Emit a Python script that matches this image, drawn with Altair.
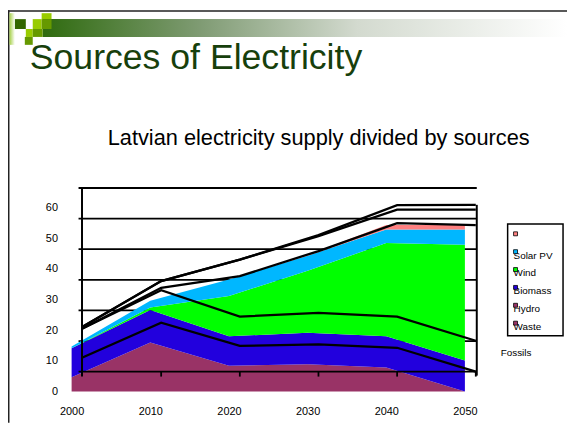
import altair as alt
import pandas as pd

# ---------------- data ----------------
years = [2000, 2010, 2020, 2030, 2040, 2050]
series_names = ["Hydro", "Biomass", "Wind", "Solar PV", "Other"]
series_colors = ["#993366", "#2200dd", "#00ff00", "#00b7ff", "#ff8080"]
hydro = [4.6, 16.0, 8.4, 8.9, 7.8, 0.0]
biomass = [9.5, 10.6, 9.6, 10.3, 10.2, 10.1]
wind = [0.0, 0.8, 13.2, 20.2, 30.5, 37.8]
solar_pv = [0.6, 2.2, 5.4, 4.9, 4.4, 5.0]
other = [0.0, 0.0, 0.0, 0.3, 1.5, 1.6]
series_values = [hydro, biomass, wind, solar_pv, other]

y_ticks = [0, 10, 20, 30, 40, 50, 60]
x_ticks = years

legend_labels = ["", "Solar PV", "Wind", "Biomass", "Hydro", "Waste"]
legend_colors = ["#ff8080", "#00b7ff", "#00ff00", "#2200dd", "#993366", "#993366"]
legend_extra = "Fossils"

title_text = "Sources of Electricity"
subtitle_text = "Latvian electricity supply divided by sources"

rows = []
for k, (name, vals) in enumerate(zip(series_names, series_values)):
    for yr, v in zip(years, vals):
        rows.append({"year": yr, "series": name, "order": k, "value": v})
df = pd.DataFrame(rows)

# ---------------- layout ----------------
W, H = 565, 417
FONT = "Liberation Sans"
xs = alt.Scale(domain=[years[0], years[-1]], range=[64.3, 461.8], nice=False, zero=False)
ys = alt.Scale(domain=[y_ticks[0], y_ticks[-1]], range=[385.3, 199.7], nice=False, zero=False)
DX, DY = 11, -20  # back-wall offset of the 3-D chart

one = pd.DataFrame({"a": [0]})


def box(x, x2, y, y2, **kw):
    return alt.Chart(one).mark_rect(**kw).encode(
        x=alt.value(x), x2=alt.value(x2), y=alt.value(y), y2=alt.value(y2)
    )


def hgrad(c0, c1, mid=None):
    stops = [alt.GradientStop(color=c0, offset=0)]
    if mid:
        stops += [alt.GradientStop(color=c, offset=o) for o, c in mid]
    stops.append(alt.GradientStop(color=c1, offset=1))
    return alt.Gradient(gradient="linear", stops=stops, x1=0, x2=1, y1=0, y2=0)


# slide frame + header decoration
frame_top = box(0, W, 0, 1.5, color="#222222")
frame_left = box(0, 1.5, 0, H, color="#222222")
header_bar = box(35, W, 9, 27, color=hgrad("#2f6b0f", "#ffffff", [(0.3, "#7f9b73"), (0.6, "#d3dacf")]))
sq = [
    box(1.5, 7, 3, 35, color=hgrad("#a6d04a", "#ffffff")),
    box(7, 18, 9, 19, color="#336600"),
    box(34, 44, 3, 9, color="#99cc00"),
    box(25, 34, 9, 19, color="#99cc00"),
    box(34, 44, 9, 19, color="#669900"),
    box(18, 25, 19, 27, color="#99cc00"),
    box(25, 35, 19, 27, color="#669900"),
    box(17, 25, 27, 35, color="#669900"),
]

title = alt.Chart(one).mark_text(
    text=title_text, font=FONT, fontSize=36, color="#173f0c", align="left", baseline="alphabetic"
).encode(x=alt.value(22), y=alt.value(59))
subtitle = alt.Chart(one).mark_text(
    text=subtitle_text, font=FONT, fontSize=22, color="black", align="center", baseline="alphabetic"
).encode(x=alt.value(314), y=alt.value(136.3))

# ---------------- chart ----------------
grid_df = pd.DataFrame({"v": y_ticks, "x0": years[0], "x1": years[-1]})
grid = alt.Chart(grid_df).transform_filter(alt.datum.v > 0).mark_rule(
    color="black", strokeWidth=1.8, xOffset=DX - 4, x2Offset=DX + 1, yOffset=DY
).encode(
    x=alt.X("x0:Q", scale=xs, axis=None), x2="x1:Q", y=alt.Y("v:Q", scale=ys, axis=None)
)

base = alt.Chart(df).transform_stack(
    stack="value", groupby=["year"], as_=["y0", "y1"], sort=[alt.SortField("order", order="ascending")]
)

areas = base.mark_area(opacity=1, interpolate="linear").encode(
    x=alt.X(
        "year:Q", scale=xs,
        axis=alt.Axis(values=x_ticks, format="d", orient="bottom", offset=-19, domain=False,
                      ticks=False, grid=False, labelFlush=False, labelPadding=2,
                      labelFontSize=11, labelFont=FONT, labelColor="black", title=None),
    ),
    y=alt.Y(
        "y1:Q", scale=ys,
        axis=alt.Axis(values=y_ticks, orient="left", offset=-50, domain=False, ticks=False,
                      grid=False, labelPadding=0, labelFontSize=11, labelFont=FONT,
                      labelColor="black", title=None, labelFlush=False),
    ),
    y2="y0:Q",
    color=alt.Color("series:N", scale=alt.Scale(domain=series_names, range=series_colors), legend=None),
    order=alt.Order("order:Q"),
)

back_lines = base.mark_line(color="black", strokeWidth=2.3, xOffset=DX, yOffset=DY).encode(
    x=alt.X("year:Q", scale=xs, axis=None),
    y=alt.Y("y1:Q", scale=ys, axis=None),
    detail="series:N",
)

baseline = alt.Chart(grid_df).transform_filter(alt.datum.v == 0).mark_rule(
    color="black", strokeWidth=2, xOffset=DX - 4, x2Offset=DX + 1, yOffset=DY
).encode(x=alt.X("x0:Q", scale=xs, axis=None), x2="x1:Q", y=alt.Y("v:Q", scale=ys, axis=None))

tick_df = pd.DataFrame({"year": x_ticks[1:], "b": y_ticks[0]})
ticks = alt.Chart(tick_df).mark_rule(
    color="black", strokeWidth=1.8, xOffset=DX, yOffset=DY, y2Offset=DY + 5
).encode(x=alt.X("year:Q", scale=xs, axis=None), y=alt.Y("b:Q", scale=ys, axis=None), y2="b:Q")

axis_df = pd.DataFrame({"x": [years[0]], "lo": [y_ticks[0]], "hi": [y_ticks[-1]]})
back_axis = alt.Chart(axis_df).mark_rule(
    color="black", strokeWidth=2, xOffset=DX - 0.5, yOffset=DY + 5, y2Offset=DY
).encode(x=alt.X("x:Q", scale=xs, axis=None), y=alt.Y("lo:Q", scale=ys, axis=None), y2="hi:Q")

right_edge = base.transform_filter(alt.datum.year == years[-1]).transform_aggregate(
    total="sum(value)", groupby=["year"]
).transform_calculate(zero="0").mark_rule(
    color="black", strokeWidth=2, xOffset=DX + 1, yOffset=DY, y2Offset=DY + 4
).encode(x=alt.X("year:Q", scale=xs, axis=None), y=alt.Y("total:Q", scale=ys, axis=None), y2="zero:Q")

# ---------------- legend ----------------
leg_df = pd.DataFrame({"row": list(range(len(legend_labels))), "label": legend_labels, "col": legend_colors})
leg_scale = alt.Scale(domain=[0, len(legend_labels) - 1], range=[230, 320.3], nice=False, zero=False)
legend_box = box(505, 561, 216, 329, fill="white", stroke="black", strokeWidth=1.5)
legend_text = alt.Chart(leg_df).mark_text(
    align="left", baseline="middle", font=FONT, fontSize=10, color="black"
).encode(x=alt.value(511), y=alt.Y("row:Q", scale=leg_scale, axis=None), text="label:N")
legend_marks = alt.Chart(leg_df).mark_square(
    size=16, filled=True, opacity=1, stroke="black", strokeWidth=0.8, yOffset=-4
).encode(x=alt.value(513), y=alt.Y("row:Q", scale=leg_scale, axis=None), fill=alt.Fill("col:N", scale=None))
legend_fossils = alt.Chart(one).mark_text(
    text=legend_extra, align="left", baseline="middle", font=FONT, fontSize=10, color="black"
).encode(x=alt.value(498), y=alt.value(347))

chart = alt.layer(
    frame_top, frame_left, header_bar, *sq, title, subtitle,
    grid, areas, back_lines, baseline, ticks, back_axis, right_edge,
    legend_box, legend_text, legend_marks, legend_fossils,
).resolve_scale(x="independent", y="independent", color="independent", fill="independent").properties(
    width=W, height=H, padding=0, autosize="none", background="white"
).configure_view(stroke=None)

chart.save("out.html", embed_options={"renderer": "svg", "actions": False})
